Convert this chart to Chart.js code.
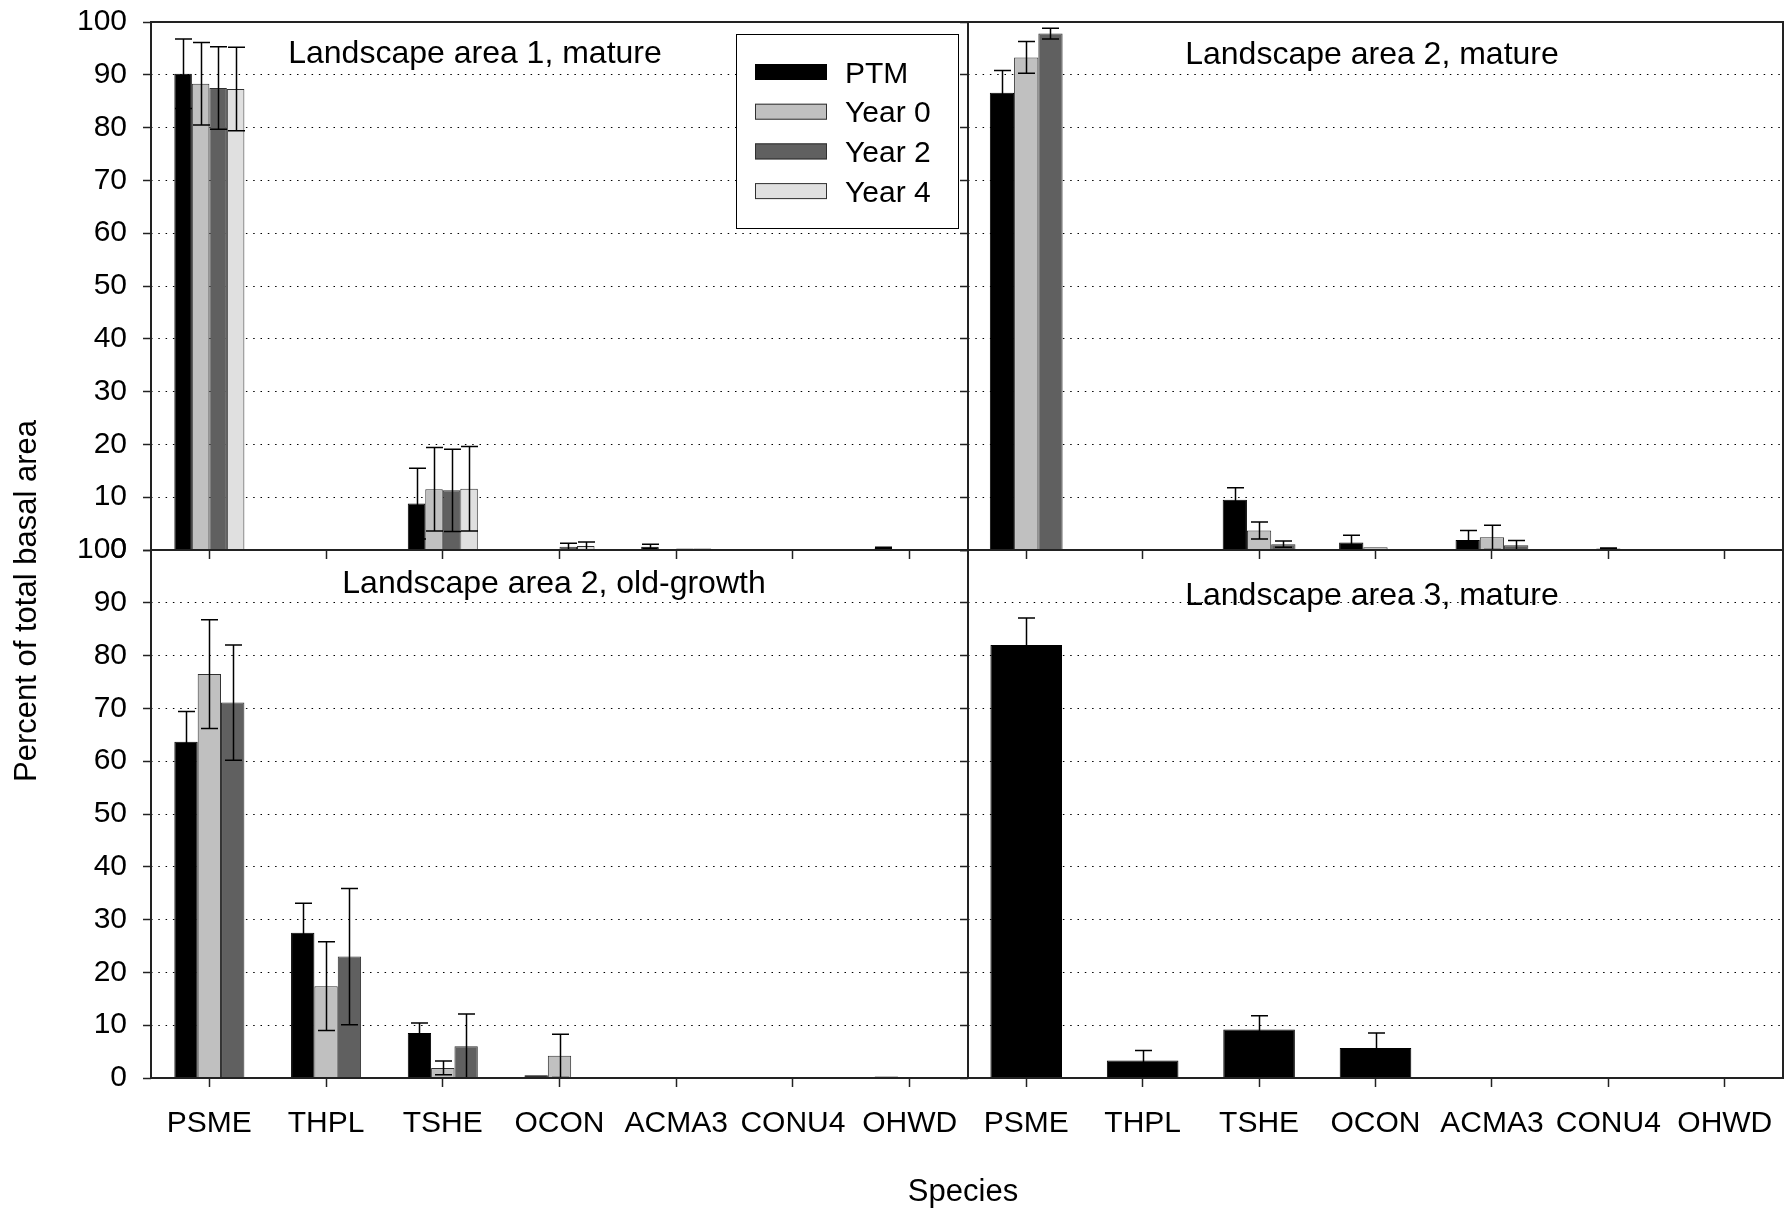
<!DOCTYPE html>
<html>
<head>
<meta charset="utf-8">
<script src="https://cdn.jsdelivr.net/npm/chart.js@4.4.0/dist/chart.umd.min.js"></script>
<style>
    html, body { margin: 0; padding: 0; background: #fff; }
    #wrap { position: relative; width: 1786px; height: 1209px; background: #fff; }
    #wrap canvas { position: absolute; left: 0; top: 0; }
</style>
</head>
<body>
<div id="wrap">
    <canvas id="panelTL" width="1786" height="1209"></canvas>
    <canvas id="panelTR" width="1786" height="1209"></canvas>
    <canvas id="panelBL" width="1786" height="1209"></canvas>
    <canvas id="panelBR" width="1786" height="1209"></canvas>
</div>
<script>
// Categories and ticks
const species = ['PSME', 'THPL', 'TSHE', 'OCON', 'ACMA3', 'CONU4', 'OHWD'];
const yTicks = [0, 10, 20, 30, 40, 50, 60, 70, 80, 90, 100];
const seriesNames = ['PTM', 'Year 0', 'Year 2', 'Year 4'];
const seriesColors = ['#000000', '#c0c0c0', '#606060', '#e0e0e0'];

// Landscape area 1, mature
const a1PTM = [90.2, 0, 8.8, 0, 0.6, 0.1, 0.4];
const a1PTMErr = [6.6, 0, 6.7, 0, 0.5, 0, 0.1];
const a1Yr0 = [88.3, 0, 11.5, 0, 0, 0.1, 0.2];
const a1Yr0Err = [7.8, 0, 7.9, 0, 0, 0, 0];
const a1Yr2 = [87.5, 0, 11.3, 0.6, 0.3, 0.1, 0.2];
const a1Yr2Err = [7.8, 0, 7.8, 0.7, 0, 0, 0];
const a1Yr4 = [87.3, 0, 11.6, 0.75, 0.3, 0, 0.2];
const a1Yr4Err = [7.9, 0, 8.0, 0.75, 0, 0, 0];

// Landscape area 2, mature
const a2PTM = [86.6, 0.2, 9.5, 1.4, 1.9, 0.2, 0];
const a2PTMErr = [4.2, 0, 2.3, 1.4, 1.8, 0, 0];
const a2Yr0 = [93.3, 0, 3.7, 0.5, 2.4, 0.3, 0.1];
const a2Yr0Err = [3.0, 0, 1.6, 0, 2.3, 0.1, 0];
const a2Yr2 = [97.8, 0, 1.1, 0, 0.9, 0.2, 0];
const a2Yr2Err = [1.0, 0, 0.6, 0, 0.9, 0, 0];

// Landscape area 2, old-growth
const ogPTM = [63.7, 27.5, 8.5, 0.5, 0, 0, 0.3];
const ogPTMErr = [5.7, 5.6, 1.9, 0, 0, 0, 0];
const ogYr0 = [76.5, 17.4, 1.9, 4.2, 0, 0, 0];
const ogYr0Err = [10.3, 8.4, 1.3, 4.1, 0, 0, 0];
const ogYr2 = [71.1, 23.0, 6.0, 0, 0, 0, 0];
const ogYr2Err = [10.9, 12.9, 6.1, 0, 0, 0, 0];

// Landscape area 3, mature
const a3PTM = [82.0, 3.3, 9.2, 5.7, 0, 0, 0];
const a3PTMErr = [5.1, 1.9, 2.6, 2.8, 0, 0, 0];

const W = 1786, H = 1209;
const FONT = '"Liberation Sans", Arial, sans-serif';

function series(values, errs, k) {
    return {
        label: seriesNames[k],
        data: values,
        errors: errs,
        backgroundColor: seriesColors[k],
        borderColor: k === 0 ? '#000000' : '#303030',
        borderWidth: 1
    };
}

/**
 * Error bars: whisker + caps, clipped at zero
 */
const errorBars = {
    id: 'errorBars',
    afterDatasetsDraw(chart) {
        const ctx = chart.ctx;
        const y = chart.scales.y;
        ctx.save();
        ctx.strokeStyle = '#000';
        ctx.lineWidth = 1.5;
        chart.data.datasets.forEach((ds, i) => {
            const meta = chart.getDatasetMeta(i);
            meta.data.forEach((bar, j) => {
                const v = ds.data[j];
                const e = ds.errors[j];
                if (!e) return;
                const x = Math.round(bar.x) + 0.5;
                const yTop = y.getPixelForValue(v + e);
                const lo = v - e;
                const yBot = y.getPixelForValue(Math.max(lo, 0));
                ctx.beginPath();
                ctx.moveTo(x, yBot);
                ctx.lineTo(x, yTop);
                ctx.moveTo(x - 8.5, yTop);
                ctx.lineTo(x + 8.5, yTop);
                if (lo > 0) {
                    ctx.moveTo(x - 8.5, yBot);
                    ctx.lineTo(x + 8.5, yBot);
                }
                ctx.stroke();
            });
        });
        ctx.restore();
    }
};

/**
 * Frame, panel title, legend and shared axis titles
 */
const panelDecor = {
    id: 'panelDecor',
    afterDraw(chart, args, opts) {
        const ctx = chart.ctx;
        const a = chart.chartArea;
        ctx.save();
        ctx.strokeStyle = '#222';
        ctx.lineWidth = 2;
        ctx.strokeRect(a.left, a.top, a.right - a.left, a.bottom - a.top);

        ctx.fillStyle = '#000';
        ctx.font = '32px ' + FONT;
        ctx.textAlign = 'center';
        ctx.textBaseline = 'alphabetic';
        ctx.fillText(opts.title, opts.tx, opts.ty);

        if (opts.legend) {
            const bx = 736, by = 34, bw = 222, bh = 194;
            ctx.fillStyle = '#fff';
            ctx.fillRect(bx, by, bw, bh);
            ctx.strokeStyle = '#000';
            ctx.lineWidth = 1;
            ctx.strokeRect(bx + 0.5, by + 0.5, bw, bh);
            ctx.font = '30px ' + FONT;
            ctx.textAlign = 'left';
            seriesNames.forEach((name, k) => {
                const cy = 72 + k * 39.7;
                ctx.fillStyle = seriesColors[k];
                ctx.fillRect(755, cy - 8, 72, 16);
                ctx.strokeStyle = k === 0 ? '#000' : '#303030';
                ctx.strokeRect(755.5, cy - 7.5, 71, 15);
                ctx.fillStyle = '#000';
                ctx.fillText(name, 845, cy + 10.7);
            });
        }

        if (opts.axisTitles) {
            ctx.fillStyle = '#000';
            ctx.font = '31px ' + FONT;
            ctx.textAlign = 'center';
            ctx.fillText('Species', 963, 1201);
            ctx.translate(36, 601);
            ctx.rotate(-Math.PI / 2);
            ctx.fillText('Percent of total basal area', 0, 0);
        }
        ctx.restore();
    }
};

function makePanel(canvasId, cfg) {
    const box = cfg.box;
    const yW = cfg.yLabels ? box.left : 10;
    const xH = cfg.xLabels ? 80 : 30;
    return new Chart(document.getElementById(canvasId), {
        type: 'bar',
        data: { labels: species, datasets: cfg.datasets },
        options: {
            responsive: false,
            animation: false,
            events: [],
            layout: {
                padding: {
                    left: box.left - yW,
                    top: box.top,
                    right: W - box.right,
                    bottom: H - box.bottom - xH
                }
            },
            datasets: { bar: { categoryPercentage: cfg.catPct, barPercentage: 1 } },
            plugins: {
                legend: { display: false },
                tooltip: { enabled: false },
                panelDecor: cfg.decor
            },
            scales: {
                x: {
                    offset: true,
                    grid: { offset: false, drawOnChartArea: false, drawTicks: true, tickLength: 9, tickColor: '#222', tickWidth: 1.5 },
                    border: { display: false },
                    ticks: {
                        display: cfg.xLabels,
                        color: '#000',
                        font: { family: FONT, size: 30 },
                        padding: 19,
                        maxRotation: 0,
                        autoSkip: false
                    },
                    afterFit: s => {
                        s.height = xH;
                        s.paddingLeft = 0;
                        s.paddingRight = 0;
                    }
                },
                y: {
                    min: 0,
                    max: 100,
                    afterBuildTicks: s => { s.ticks = yTicks.map(v => ({ value: v })); },
                    grid: {
                        color: c => (c.tick && (c.tick.value === 0 || c.tick.value === 100)) ? 'rgba(0,0,0,0)' : '#000',
                        lineWidth: 1,
                        tickLength: 8,
                        tickColor: '#222',
                        tickWidth: 1.5
                    },
                    border: { display: false, dash: [1.5, 5.8] },
                    ticks: {
                        display: cfg.yLabels,
                        color: '#000',
                        font: { family: FONT, size: 30 },
                        padding: 16
                    },
                    afterFit: s => {
                        s.width = yW;
                        s.paddingTop = 0;
                        s.paddingBottom = 0;
                    }
                }
            }
        },
        plugins: [errorBars, panelDecor]
    });
}

makePanel('panelTL', {
    box: { left: 151, top: 22, right: 968, bottom: 550 },
    yLabels: true, xLabels: false, catPct: 0.6,
    datasets: [series(a1PTM, a1PTMErr, 0), series(a1Yr0, a1Yr0Err, 1), series(a1Yr2, a1Yr2Err, 2), series(a1Yr4, a1Yr4Err, 3)],
    decor: { title: 'Landscape area 1, mature', tx: 475, ty: 62.6, legend: true }
});

makePanel('panelTR', {
    box: { left: 968, top: 22, right: 1783, bottom: 550 },
    yLabels: false, xLabels: false, catPct: 0.625,
    datasets: [series(a2PTM, a2PTMErr, 0), series(a2Yr0, a2Yr0Err, 1), series(a2Yr2, a2Yr2Err, 2)],
    decor: { title: 'Landscape area 2, mature', tx: 1372, ty: 63.5 }
});

makePanel('panelBL', {
    box: { left: 151, top: 550, right: 968, bottom: 1078 },
    yLabels: true, xLabels: true, catPct: 0.6,
    datasets: [series(ogPTM, ogPTMErr, 0), series(ogYr0, ogYr0Err, 1), series(ogYr2, ogYr2Err, 2)],
    decor: { title: 'Landscape area 2, old-growth', tx: 554, ty: 593, axisTitles: true }
});

makePanel('panelBR', {
    box: { left: 968, top: 550, right: 1783, bottom: 1078 },
    yLabels: false, xLabels: true, catPct: 0.615,
    datasets: [series(a3PTM, a3PTMErr, 0)],
    decor: { title: 'Landscape area 3, mature', tx: 1372, ty: 605 }
});
</script>
</body>
</html>
